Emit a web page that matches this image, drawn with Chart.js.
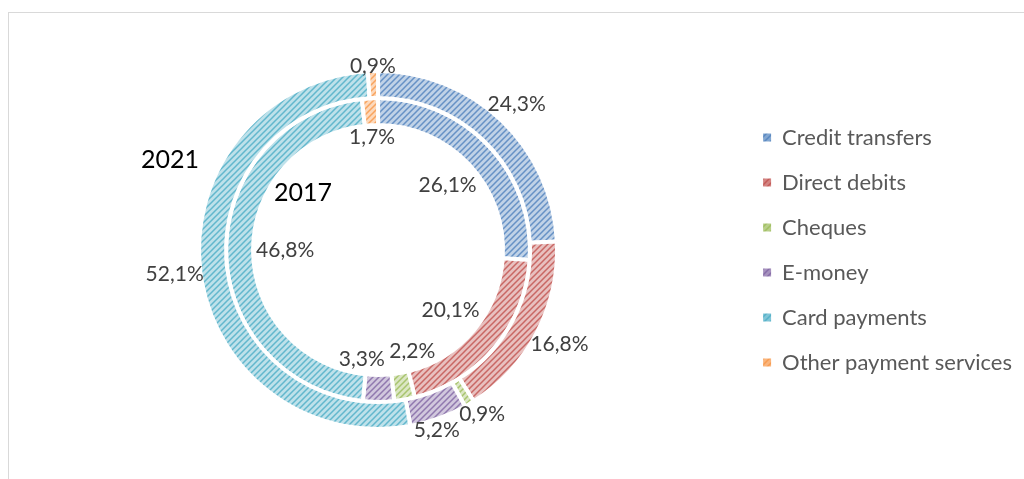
<!DOCTYPE html>
<html lang="en">
<head>
<meta charset="UTF-8">
<title>Payment services 2017 / 2021</title>
<script src="https://cdn.jsdelivr.net/npm/chart.js"></script>
<style>
    html, body { margin: 0; padding: 0; background: #fff; overflow: hidden; }
    .frame { position: absolute; left: 8px; top: 12px; width: 1100px; height: 600px; border: 1px solid #d9d9d9; }
    #chart { position: absolute; left: 0; top: 0; }
</style>
</head>
<body>
<div class="frame"></div>
<canvas id="chart" width="1024" height="479"></canvas>
<script>
    // data
    const categories = ['Credit transfers', 'Direct debits', 'Cheques', 'E-money', 'Card payments', 'Other payment services'];
    const values2021 = [24.3, 16.8, 0.9, 5.2, 52.1, 0.9];
    const values2017 = [26.1, 20.1, 2.2, 3.3, 46.8, 1.7];
    const years = ['2021', '2017'];
    const colors = ['#4f81bd', '#c0504d', '#9bbb59', '#8064a2', '#4bacc6', '#f79646'];

    // diagonal hatch fill like the Office pattern
    function hatch(color, tint) {
        const size = 6;
        const c = document.createElement('canvas');
        c.width = size; c.height = size;
        const g = c.getContext('2d');
        g.fillStyle = '#fff';
        g.fillRect(0, 0, size, size);
        g.globalAlpha = tint;
        g.fillStyle = color;
        g.fillRect(0, 0, size, size);
        g.globalAlpha = 0.8;
        g.strokeStyle = color;
        g.lineWidth = 1.5;
        g.beginPath();
        g.moveTo(0, size); g.lineTo(size, 0);
        g.moveTo(-2, 2); g.lineTo(2, -2);
        g.moveTo(size - 2, size + 2); g.lineTo(size + 2, size - 2);
        g.stroke();
        return g.createPattern(c, 'repeat');
    }
    const patterns = colors.map(c => hatch(c, 0.36));
    const legendPatterns = colors.map(c => hatch(c, 0.7));

    const fmt = v => v.toFixed(1).replace('.', ',') + '%';

    // percentage labels + year captions
    const labelPlugin = {
        id: 'sliceLabels',
        afterDatasetsDraw(chart) {
            const ctx = chart.ctx;
            const h = 16;
            ctx.save();
            ctx.font = '21px Lato';
            ctx.fillStyle = '#404040';
            ctx.textAlign = 'center';
            ctx.textBaseline = 'middle';
            chart.data.datasets.forEach((ds, di) => {
                const meta = chart.getDatasetMeta(di);
                const items = meta.data.map((arc, i) => {
                    const p = arc.getProps(['x', 'y', 'startAngle', 'endAngle', 'innerRadius', 'outerRadius']);
                    const txt = fmt(ds.data[i]);
                    return { p, txt, w: ctx.measureText(txt).width, a: (p.startAngle + p.endAngle) / 2 };
                });
                const place = it => {
                    const cos = Math.cos(it.a), sin = Math.sin(it.a);
                    const proj = Math.abs(cos) * it.w / 2 + Math.abs(sin) * h / 2 + 2;
                    const r = di === 0 ? it.p.outerRadius - 6 + proj : it.p.innerRadius - 1 - proj;
                    it.x = it.p.x + cos * r;
                    it.y = it.p.y + sin * r;
                };
                // push neighbouring labels apart along the circle
                for (let k = 0; k < 60; k++) {
                    items.forEach(place);
                    for (let i = 0; i < items.length - 1; i++) {
                        const a = items[i], b = items[i + 1];
                        if (Math.abs(a.x - b.x) < (a.w + b.w) / 2 + 3 && Math.abs(a.y - b.y) < h) {
                            a.a -= 0.01;
                            b.a += 0.01;
                        }
                    }
                }
                items.forEach(place);
                items.forEach(it => ctx.fillText(it.txt, it.x, it.y));
            });
            const c = chart.getDatasetMeta(0).data[0];
            ctx.fillStyle = '#000';
            ctx.font = '25px Lato';
            ctx.fillText(years[0], c.x - 208, c.y - 90);
            ctx.fillText(years[1], c.x - 75, c.y - 57);
            ctx.restore();
        }
    };

    new Chart(document.getElementById('chart'), {
        type: 'doughnut',
        data: {
            labels: categories,
            datasets: [
                { label: years[0], data: values2021, backgroundColor: patterns, borderColor: '#fff', borderWidth: 4 },
                { label: years[1], data: values2017, backgroundColor: patterns, borderColor: '#fff', borderWidth: 4 }
            ]
        },
        options: {
            responsive: false,
            animation: false,
            devicePixelRatio: 1,
            radius: 179,
            cutout: '69.83%',
            layout: { padding: { left: 16, right: 2, top: 21, bottom: 0 } },
            plugins: {
                tooltip: { enabled: false },
                legend: {
                    position: 'right',
                    labels: {
                        boxWidth: 8,
                        boxHeight: 8,
                        padding: 23,
                        color: '#595959',
                        font: { family: 'Lato', size: 22 },
                        generateLabels(chart) {
                            const items = Chart.overrides.doughnut.plugins.legend.labels.generateLabels(chart);
                            items.forEach((it, i) => { it.fillStyle = legendPatterns[i]; it.strokeStyle = 'transparent'; it.lineWidth = 0; });
                            return items;
                        }
                    }
                }
            }
        },
        plugins: [labelPlugin]
    });
</script>
</body>
</html>
